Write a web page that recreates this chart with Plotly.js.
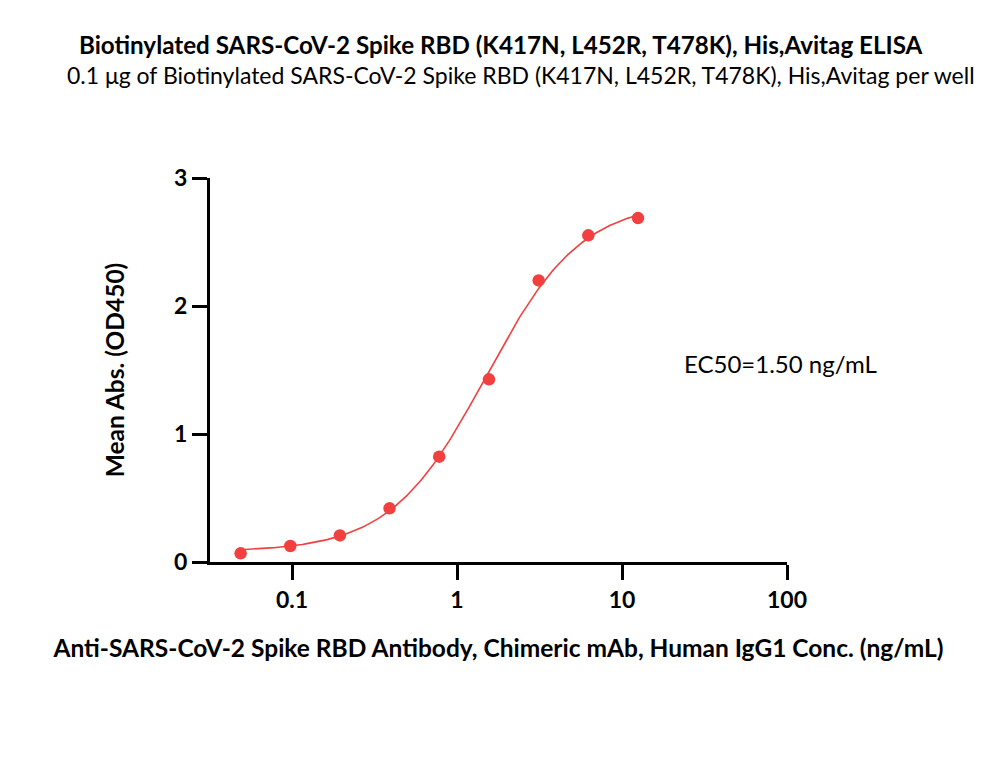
<!DOCTYPE html>
<html>
<head>
<meta charset="utf-8">
<script src="https://cdn.plot.ly/plotly-3.0.1.min.js"></script>
<style>html,body{margin:0;padding:0;background:#fff;}#chart{width:1000px;height:758px;}</style>
</head>
<body>
<div id="chart"></div>
<script>
// Data
const concentrations = [0.0488, 0.0977, 0.195, 0.39, 0.78, 1.5625, 3.125, 6.25, 12.5];
const meanAbs = [0.068, 0.125, 0.208, 0.419, 0.823, 1.427, 2.20, 2.552, 2.687];
const xTickVals = [0.1, 1, 10, 100];
const xTickText = ['0.1', '1', '10', '100'];
const yTickVals = [0, 1, 2, 3];
// Four-parameter logistic fit parameters (estimated from the drawn curve)
const fitBottom = 0.08, fitTop = 2.82, fitEC50 = 1.5, fitHill = 1.5;

const fitX = [], fitY = [];
const lo = Math.log10(concentrations[0]), hi = Math.log10(concentrations[concentrations.length - 1]);
for (let i = 0; i <= 200; i++) {
  const x = Math.pow(10, lo + (hi - lo) * i / 200);
  fitX.push(x);
  fitY.push(fitBottom + (fitTop - fitBottom) / (1 + Math.pow(fitEC50 / x, fitHill)));
}

const red = '#F2403F';
const FONT = 'Lato, "Open Sans", sans-serif';

const traces = [
  {x: fitX, y: fitY, mode: 'lines', line: {color: red, width: 1.6}, hoverinfo: 'skip', showlegend: false, cliponaxis: false},
  {x: concentrations, y: meanAbs, mode: 'markers', marker: {color: red, size: 12.5}, showlegend: false, cliponaxis: false}
];

const layout = {
  width: 1000, height: 758,
  margin: {l: 210, r: 213, t: 178, b: 196},
  paper_bgcolor: '#fff', plot_bgcolor: '#fff',
  font: {family: FONT, color: '#000'},
  showlegend: false,
  xaxis: {
    type: 'log', range: [-1.497, 2],
    tickvals: xTickVals, ticktext: xTickText,
    showline: true, linewidth: 3, linecolor: '#000',
    ticks: 'outside', ticklen: 15, tickwidth: 3, tickcolor: '#000',
    showgrid: false, zeroline: false,
    tickfont: {family: FONT, size: 23, color: '#000', weight: 'bold'},
    title: {text: '<b>Anti-SARS-CoV-2 Spike RBD Antibody, Chimeric mAb, Human IgG1 Conc. (ng/mL)</b>', font: {family: FONT, size: 24.5, color: '#000'}, standoff: 29}
  },
  yaxis: {
    range: [0, 3],
    tickvals: yTickVals,
    showline: true, linewidth: 3, linecolor: '#000',
    ticks: 'outside', ticklen: 15, tickwidth: 3, tickcolor: '#000',
    showgrid: false, zeroline: false,
    tickfont: {family: FONT, size: 23, color: '#000', weight: 'bold'},
    title: {text: '<b>Mean Abs. (OD450)</b>', font: {family: FONT, size: 24.5, color: '#000'}, standoff: 43}
  },
  annotations: [
    {text: '<b>Biotinylated SARS-CoV-2 Spike RBD (K417N, L452R, T478K), His,Avitag ELISA</b>', xref: 'paper', yref: 'paper', x: 0.5, y: 1, xanchor: 'center', yanchor: 'middle', showarrow: false, font: {family: FONT, size: 24.2, color: '#000'}, xshift: 2, yshift: 134},
    {text: '0.1 μg of Biotinylated SARS-CoV-2 Spike RBD (K417N, L452R, T478K), His,Avitag per well', xref: 'paper', yref: 'paper', x: 0.5, y: 1, xanchor: 'center', yanchor: 'middle', showarrow: false, font: {family: FONT, size: 23, color: '#000'}, xshift: 22, yshift: 103},
    {text: 'EC50=1.50 ng/mL', xref: 'paper', yref: 'paper', x: 0.983, y: 0.517, xanchor: 'center', yanchor: 'middle', showarrow: false, font: {family: FONT, size: 24, color: '#000'}, xshift: 3}
  ]
};

Plotly.newPlot('chart', traces, layout, {displayModeBar: false, staticPlot: true});
</script>
</body>
</html>
